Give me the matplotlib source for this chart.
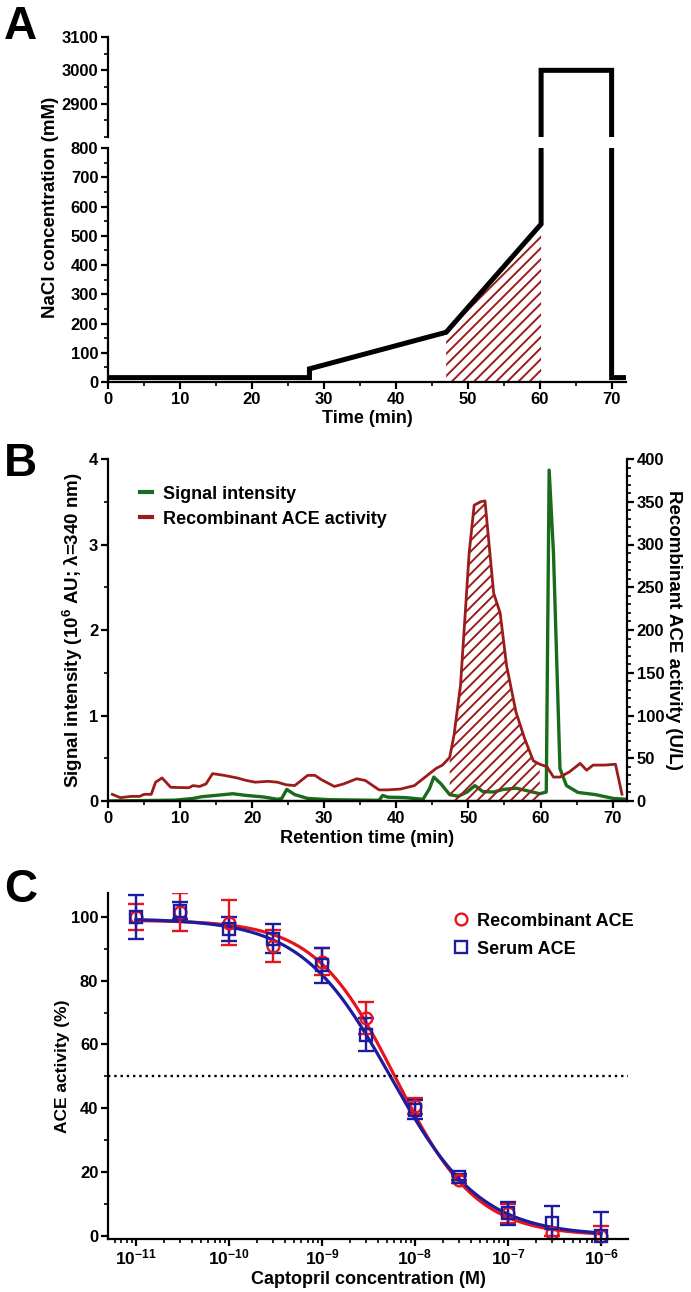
import numpy as np
import matplotlib
matplotlib.use("Agg")
import matplotlib.pyplot as plt
from matplotlib.ticker import MultipleLocator, LogLocator, NullFormatter, FixedLocator, FixedFormatter
from matplotlib.lines import Line2D

plt.rcParams["font.family"] = ["Liberation Sans Narrow", "Liberation Sans", "DejaVu Sans"]
plt.rcParams["font.weight"] = "bold"
plt.rcParams["axes.labelweight"] = "bold"
plt.rcParams["mathtext.fontset"] = "custom"
plt.rcParams["mathtext.rm"] = "Liberation Sans:bold"
plt.rcParams["mathtext.bf"] = "Liberation Sans:bold"
plt.rcParams["mathtext.default"] = "bf"
plt.rcParams["hatch.linewidth"] = 1.4
plt.rcParams["axes.linewidth"] = 1.6

# ---- A: NaCl gradient ----
grad_t = [0, 28, 28, 47, 60.2, 60.2, 70, 70, 72]
grad_nacl = [15, 15, 45, 170, 540, 3000, 3000, 15, 15]
frac_start, frac_end = 47, 60.2

# ---- B: chromatogram ----
sig_t = [0, 9.3, 11.8, 13, 15.5, 17.3, 19.2, 21.6, 23.5, 24.1, 24.8, 25.9, 27.7, 30.8,
         37.6, 38.1, 38.8, 41.2, 43.7, 44.6, 45.2, 46.2, 47.4, 48.6, 49.8, 50.9, 52.0,
         53.5, 54.8, 56.6, 58.4, 59.9, 60.8, 61.2, 61.8, 62.7, 63.6, 65.2, 67.6, 70.1, 72]
sig_int = [0, 0.01, 0.03, 0.05, 0.07, 0.085, 0.065, 0.047, 0.02, 0.03, 0.135, 0.075, 0.03, 0.015,
           0.008, 0.065, 0.045, 0.04, 0.02, 0.145, 0.28, 0.2, 0.075, 0.055, 0.105, 0.18, 0.11,
           0.105, 0.135, 0.15, 0.115, 0.085, 0.105, 3.87, 2.9, 0.38, 0.18, 0.1, 0.075, 0.03, 0.02]
ace_t = [0.6, 1.7, 3.2, 4.4, 5.0, 6.0, 6.6, 7.5, 8.7, 11.2, 11.8, 12.7, 13.6, 14.5, 16.1, 17.9,
         19.2, 20.4, 22.2, 23.5, 24.7, 25.9, 27.7, 28.7, 29.6, 31.4, 32.7, 34.5, 35.7, 37.6,
         38.8, 40.6, 42.5, 44.3, 45.5, 46.4, 47.4, 48.0, 48.9, 49.5, 50.1, 50.8, 51.7, 52.3,
         53.5, 54.4, 55.3, 56.6, 57.8, 59.0, 59.9, 60.9, 61.8, 62.7, 64.0, 65.5, 66.4, 67.3,
         68.9, 70.4, 71.3]
ace_act = [7.8, 3.9, 5.4, 5.4, 7.8, 7.8, 22, 27, 16, 15.5, 18, 17, 20, 32, 30, 27,
           24, 22, 23, 22, 19, 18, 30, 30, 25, 17, 20, 26, 24, 13,
           13, 14, 18, 30, 38, 42, 51, 77, 135, 212, 290, 346, 350, 351,
           243, 220, 158, 104, 73, 47, 43, 40, 28, 28, 34, 44, 36, 42,
           42, 43, 8]
ace_frac = (47.4, 59.9)

# ---- C: captopril inhibition ----
conc = [1e-11, 3e-11, 1e-10, 3e-10, 1e-9, 3e-9, 1e-8, 3e-8, 1e-7, 3e-7, 1e-6]
rec_act = [100, 101.6, 98.2, 91, 86, 68.4, 40.6, 17.6, 7.1, 1.0, 0]
rec_err = [4, 6, 7, 5, 4.3, 5, 2.5, 1, 3, 1, 3]
ser_act = [100, 101.9, 96.3, 93.2, 84.8, 63.1, 39.6, 18.4, 7.1, 4.0, 0]
ser_err = [7, 2.7, 3.8, 4.6, 5.5, 5.3, 3.1, 1, 3.6, 5.2, 7.4]
# 4PL fit: top, bottom, IC50, hill
rec_fit = (99.0, 0.0, 6.2e-9, 1.0)
ser_fit = (99.5, 0.0, 5.5e-9, 0.9)
c_ticks = [1e-11, 1e-10, 1e-9, 1e-8, 1e-7, 1e-6]
c_ticklabels = ["10$^{-11}$", "10$^{-10}$", "10$^{-9}$", "10$^{-8}$", "10$^{-7}$", "10$^{-6}$"]

dark_red = "#9c1c1c"
green = "#1a6b1a"
red = "#e8141c"
blue = "#1c1ca0"

W, H = 691, 1292
fig = plt.figure(figsize=(W / 100, H / 100), dpi=100)


def box(l, t, r, b):
    return [l / W, 1 - b / H, (r - l) / W, (b - t) / H]


def style(ax, fs=12):
    ax.spines["top"].set_visible(False)
    ax.spines["right"].set_visible(False)
    ax.tick_params(which="major", direction="out", length=5, width=1.6, labelsize=fs, pad=2)
    ax.tick_params(which="minor", direction="out", length=3, width=1.2)


# ---------------- panel A ----------------
axAt = fig.add_axes(box(108, 37, 626, 137))
axA = fig.add_axes(box(108, 148, 626, 382))
for ax in (axAt, axA):
    style(ax)
    ax.plot(grad_t, grad_nacl, color="black", lw=3.6, solid_joinstyle="miter")
    ax.set_xlim(0, 72)
axAt.set_ylim(2800, 3100)
axAt.set_yticks([2900, 3000, 3100])
axAt.yaxis.set_minor_locator(MultipleLocator(50))
axAt.spines["bottom"].set_visible(False)
axAt.set_xticks([])

axA.set_ylim(0, 800)
axA.yaxis.set_major_locator(MultipleLocator(100))
axA.yaxis.set_minor_locator(MultipleLocator(50))
axA.xaxis.set_major_locator(MultipleLocator(10))
axA.xaxis.set_minor_locator(MultipleLocator(5))
gt = np.array(grad_t)
axA.fill_between(grad_t, 0, grad_nacl, where=(gt >= frac_start) & (gt <= frac_end),
                 facecolor="none", edgecolor=dark_red, hatch="///", lw=0)
axA.set_xlabel("Time (min)", fontsize=13, labelpad=2)
fig.text(51 / W, 1 - 207 / H, "NaCl concentration (mM)", rotation=90, fontsize=13.5,
         ha="center", va="center")

# ---------------- panel B ----------------
axB = fig.add_axes(box(108, 459, 627, 801))
style(axB)
axB2 = axB.twinx()
axB2.spines["top"].set_visible(False)
axB2.spines["left"].set_visible(False)
axB2.tick_params(which="major", direction="out", length=5, width=1.6, labelsize=12, pad=2)
axB2.tick_params(which="minor", direction="out", length=3, width=1.2)

axB.plot(sig_t, sig_int, color=green, lw=2.4)
axB2.plot(ace_t, ace_act, color=dark_red, lw=2.0)
at = np.array(ace_t)
axB2.fill_between(ace_t, 0, ace_act, where=(at >= ace_frac[0]) & (at <= ace_frac[1]),
                  facecolor="none", edgecolor=dark_red, hatch="///", lw=0)
axB.set_xlim(0, 72)
axB.set_ylim(0, 4)
axB2.set_ylim(0, 400)
axB.xaxis.set_major_locator(MultipleLocator(10))
axB.xaxis.set_minor_locator(MultipleLocator(5))
axB.yaxis.set_major_locator(MultipleLocator(1))
axB.yaxis.set_minor_locator(MultipleLocator(0.5))
axB2.yaxis.set_major_locator(MultipleLocator(50))
axB2.yaxis.set_minor_locator(MultipleLocator(10))
axB.set_xlabel("Retention time (min)", fontsize=13, labelpad=3)
axB.set_ylabel("Signal intensity (10$^{6}$ AU; λ=340 nm)", fontsize=13.5, va="center")
axB.yaxis.set_label_coords(-0.068, 0.5)
axB2.set_ylabel("Recombinant ACE activity (U/L)", fontsize=13.5, rotation=270, va="center")
axB2.yaxis.set_label_coords(1.09, 0.5)
hB = [Line2D([], [], color=green, lw=3), Line2D([], [], color=dark_red, lw=3)]
axB.legend(hB, ["Signal intensity", "Recombinant ACE activity"], loc="upper left",
           bbox_to_anchor=(0.03, 0.97), frameon=False, fontsize=13, handlelength=0.7,
           handletextpad=0.6, labelspacing=0.45)

# ---------------- panel C ----------------
axC = fig.add_axes(box(108, 893, 628, 1239))
style(axC)
axC.set_xscale("log")
axC.set_xlim(10 ** -11.3, 10 ** -5.71)
axC.set_ylim(-1, 107.5)
xs = np.logspace(-11, -6, 300)
for (top, bot, ic50, hill), col in ((rec_fit, red), (ser_fit, blue)):
    axC.plot(xs, bot + (top - bot) / (1 + (xs / ic50) ** hill), color=col, lw=2.3)
for vals, errs, mk, col in ((rec_act, rec_err, "o", red), (ser_act, ser_err, "s", blue)):
    eb = axC.errorbar(conc, vals, yerr=errs, fmt=mk, mfc="none", mec=col, ms=8.5, mew=1.7,
                      ecolor=col, elinewidth=1.7, capsize=6, capthick=1.7)
    # markers sit on the axis at 0 and stay whole, bars below the axis are cut
    eb[0].set_clip_on(False)
axC.axhline(50, color="black", ls=":", lw=1.7)
axC.yaxis.set_major_locator(MultipleLocator(20))
axC.yaxis.set_minor_locator(MultipleLocator(10))
axC.xaxis.set_major_locator(FixedLocator(c_ticks))
axC.xaxis.set_major_formatter(FixedFormatter(c_ticklabels))
axC.xaxis.set_minor_locator(LogLocator(base=10, subs=np.arange(2, 10), numticks=20))
axC.xaxis.set_minor_formatter(NullFormatter())
axC.tick_params(axis="x", which="major", labelsize=12.5, pad=1)
axC.set_xlabel("Captopril concentration (M)", fontsize=13, labelpad=3)
axC.set_ylabel("ACE activity (%)", fontsize=12.5, va="center")
axC.yaxis.set_label_coords(-0.087, 0.5)
hC = [Line2D([], [], ls="none", marker="o", mfc="none", mec=red, ms=8.5, mew=1.7),
      Line2D([], [], ls="none", marker="s", mfc="none", mec=blue, ms=8.5, mew=1.7)]
axC.legend(hC, ["Recombinant ACE", "Serum ACE"], loc="upper left", bbox_to_anchor=(0.63, 0.99),
           frameon=False, fontsize=13, handlelength=1, handletextpad=0.4, labelspacing=0.6)

for letter, y in (("A", 5), ("B", 442), ("C", 868)):
    fig.text(4 / W, 1 - y / H, letter, fontsize=33, fontweight="bold", va="top",
             family=["Liberation Sans", "DejaVu Sans"])

fig.savefig("out.png", dpi=100)
